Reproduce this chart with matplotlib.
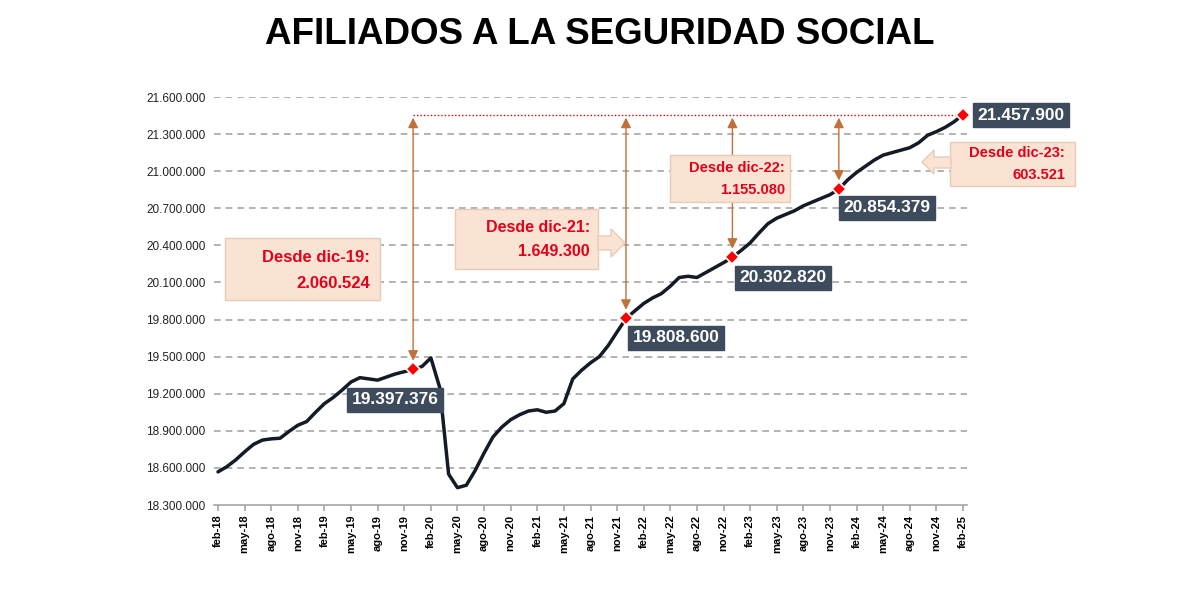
import matplotlib.pyplot as plt
from matplotlib.patches import Rectangle, Polygon
from matplotlib.ticker import FuncFormatter

# monthly affiliates, feb-18 .. feb-25 (85 months)
afiliados = [
    18568000, 18610000, 18665000, 18730000, 18790000, 18825000, 18835000, 18840000,
    18895000, 18945000, 18975000, 19050000, 19120000, 19170000, 19230000, 19295000,
    19330000, 19320000, 19310000, 19335000, 19360000, 19378000, 19397376, 19420000,
    19490000, 19250000, 18550000, 18440000, 18460000, 18580000, 18720000, 18850000,
    18930000, 18990000, 19030000, 19060000, 19070000, 19050000, 19060000, 19120000,
    19320000, 19390000, 19450000, 19500000, 19590000, 19700000, 19808600, 19870000,
    19930000, 19975000, 20010000, 20070000, 20140000, 20150000, 20140000, 20180000,
    20220000, 20260000, 20302820, 20360000, 20420000, 20500000, 20575000, 20620000,
    20650000, 20680000, 20720000, 20750000, 20780000, 20810000, 20854379, 20930000,
    20990000, 21040000, 21090000, 21130000, 21150000, 21170000, 21190000, 21230000,
    21290000, 21320000, 21355000, 21400000, 21457900,
]

tick_labels = [
    'feb-18', 'may-18', 'ago-18', 'nov-18', 'feb-19', 'may-19', 'ago-19', 'nov-19',
    'feb-20', 'may-20', 'ago-20', 'nov-20', 'feb-21', 'may-21', 'ago-21', 'nov-21',
    'feb-22', 'may-22', 'ago-22', 'nov-22', 'feb-23', 'may-23', 'ago-23', 'nov-23',
    'feb-24', 'may-24', 'ago-24', 'nov-24', 'feb-25',
]

# highlighted months (index into afiliados) and their names
destacados = [22, 46, 58, 70, 84]
nombres_destacados = ['dic-19', 'dic-21', 'dic-22', 'dic-23', 'feb-25']

y_ticks = [18300000 + 300000 * i for i in range(12)]


def miles(v):
    return f"{int(round(v)):,}".replace(",", ".")


# pixel helpers for placing annotation boxes (reference layout)
def px_x(x):
    return (x - 218) / 8.869


def px_y(y):
    return 21600000 - (y - 97) / 408 * 3300000


fig = plt.figure(figsize=(12, 6), dpi=100)
ax = fig.add_axes([214 / 1200, 1 - 505 / 600, 753 / 1200, 408 / 600])

meses = list(range(len(afiliados)))
ultimo = afiliados[-1]

# grid
for yt in y_ticks[1:]:
    ax.axhline(yt, color='#a6a6a6', linestyle=(0, (4, 3)), lw=1.2, zorder=0)

# main line
ax.plot(meses, afiliados, color='#141a26', lw=2.5, zorder=2, solid_capstyle='round')

# red dotted line at the last value
ax.plot([destacados[0], destacados[-1]], [ultimo, ultimo], color='#e00000',
        linestyle=(0, (1, 1.5)), lw=1.0, zorder=3)

# vertical arrows from each highlight to the last value
for idx in destacados[:-1]:
    ax.annotate('', xy=(idx, ultimo - 25000), xytext=(idx, afiliados[idx] + 70000),
                arrowprops=dict(arrowstyle='<|-|>,head_length=0.6,head_width=0.3',
                                color='#c0703a', lw=1.0, shrinkA=0, shrinkB=0),
                zorder=3)

# callout boxes
fondo = '#fbe3d4'
borde = '#e6cbb8'
rojo = '#e3001b'


def caja(x0, y0, x1, y1):
    ax.add_patch(Rectangle((px_x(x0), px_y(y1)), px_x(x1) - px_x(x0), px_y(y0) - px_y(y1),
                           facecolor=fondo, edgecolor=borde, lw=1.0, zorder=4, clip_on=False))


def flecha(pts):
    ax.add_patch(Polygon([(px_x(a), px_y(b)) for a, b in pts], closed=True,
                         facecolor=fondo, edgecolor=borde, lw=1.0, zorder=4, clip_on=False))


def texto_caja(x, y1, y2, nombre, delta, size):
    ax.text(px_x(x), px_y(y1), 'Desde ' + nombre + ':', ha='right', va='center',
            color=rojo, fontsize=size, fontweight='bold', family='Liberation Sans', zorder=5)
    ax.text(px_x(x), px_y(y2), miles(delta), ha='right', va='center',
            color=rojo, fontsize=size, fontweight='bold', family='Liberation Sans', zorder=5)


# dic-19
caja(225, 238, 380, 300)
texto_caja(370, 258, 283, nombres_destacados[0], ultimo - afiliados[destacados[0]], 12)

# dic-21, box with right arrow
caja(455, 209, 598, 269)
flecha([(598, 236), (611, 236), (611, 229), (625, 243), (611, 257), (611, 250), (598, 250)])
texto_caja(590, 227, 251, nombres_destacados[1], ultimo - afiliados[destacados[1]], 11.5)

# dic-22
caja(670, 155, 790, 202)
texto_caja(785, 168, 190, nombres_destacados[2], ultimo - afiliados[destacados[2]], 10.5)

# dic-23, box with left arrow
caja(950, 142, 1075, 186)
flecha([(951, 157), (934, 157), (934, 150), (922, 162), (934, 174), (934, 168), (951, 168)])
texto_caja(1065, 153, 175, nombres_destacados[3], ultimo - afiliados[destacados[3]], 10.5)

# red diamond markers
ax.plot(destacados, [afiliados[i] for i in destacados], linestyle='none', marker='D',
        markersize=7, color='#ff0000', markeredgecolor='white', markeredgewidth=1.2,
        zorder=6, clip_on=False)

# dark value labels
label_pos = [(395, 400), (676, 338), (783, 278), (887, 208), (1021, 115)]
for idx, (lx, ly) in zip(destacados, label_pos):
    ax.text(px_x(lx), px_y(ly), miles(afiliados[idx]), ha='center', va='center',
            color='white', fontsize=12.5, fontweight='bold', family='Liberation Sans',
            zorder=7, clip_on=False,
            bbox=dict(boxstyle='square,pad=0.25', facecolor='#3d4b5c', edgecolor='#3d4b5c'))

# axes
ax.set_xlim(-0.45, 84.45)
ax.set_ylim(18300000, 21600000)
ax.set_xticks(list(range(0, 85, 3)))
ax.set_xticklabels(tick_labels, rotation=90, fontsize=8, fontweight='bold',
                   family='Liberation Sans')
ax.set_yticks(y_ticks)
ax.yaxis.set_major_formatter(FuncFormatter(lambda v, p: miles(v)))
ax.tick_params(axis='y', length=0, pad=6, labelsize=8.5, labelcolor='#222222')
ax.tick_params(axis='x', length=4, color='#a6a6a6', width=1.2, pad=3)
for s in ['top', 'right', 'left']:
    ax.spines[s].set_visible(False)
ax.spines['bottom'].set_color('#a6a6a6')
ax.spines['bottom'].set_linewidth(1.2)
for t in ax.get_yticklabels():
    t.set_family('Liberation Sans')

fig.text(0.5, 1 - 35 / 600, 'AFILIADOS A LA SEGURIDAD SOCIAL', ha='center', va='center',
         fontsize=26.5, fontweight='bold', family='Liberation Sans')

fig.savefig('out.png', dpi=100, facecolor='white')
